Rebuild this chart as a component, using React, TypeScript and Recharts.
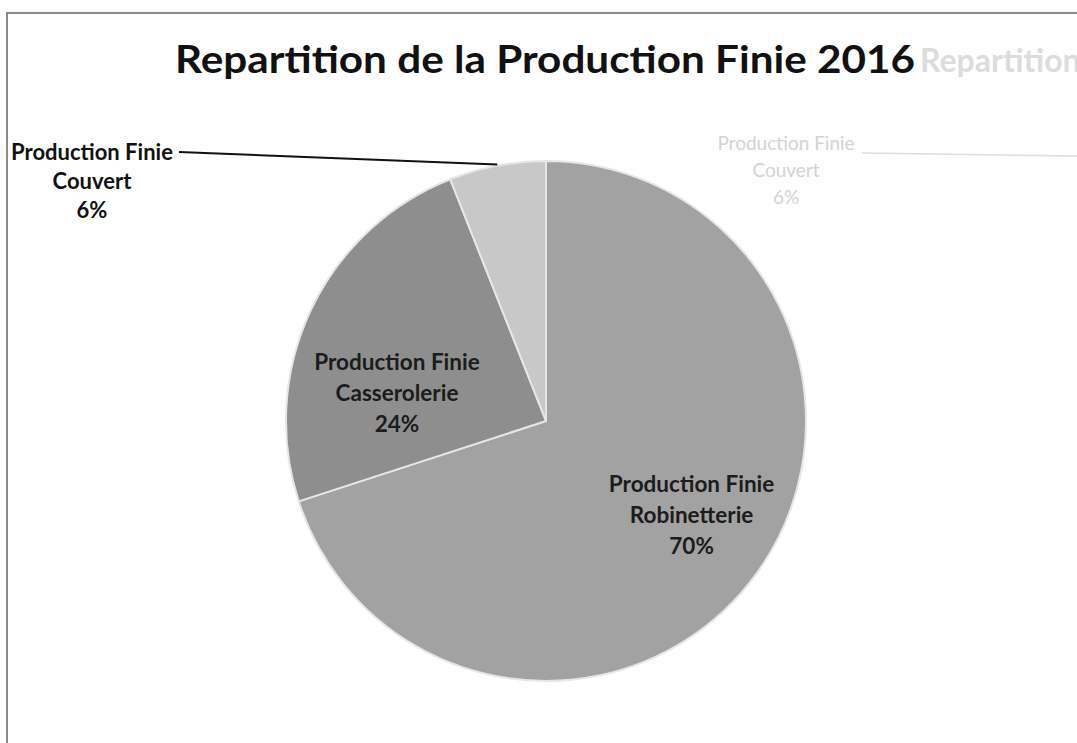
import { PieChart, Pie, Cell } from "recharts";

const categories = [
  "Production Finie Robinetterie",
  "Production Finie Casserolerie",
  "Production Finie Couvert",
];
const shares = [70, 24, 6];
const sliceColors = ["#a2a2a2", "#8e8e8e", "#c8c8c8"];
const title = "Repartition de la Production Finie 2016";

const data = categories.map((name, i) => ({ name, value: shares[i] }));

const RAD = Math.PI / 180;
const FONT = "Lato, 'Open Sans', sans-serif";

// label anchor relative to pie centre (fractions of radius), picked to match the picture
const insideSpots: Record<number, { dx: number; dy: number }> = {
  0: { dx: 0.56, dy: 0.36 },
  1: { dx: -0.573, dy: -0.108 },
};

const renderLabel = (props: any) => {
  const { cx, cy, midAngle, outerRadius, index, name, value } = props;
  const parts = String(name).split(" ");
  const line1 = parts.slice(0, 2).join(" ");
  const line2 = parts.slice(2).join(" ");
  if (index === 2) {
    const ex = cx + outerRadius * Math.cos(-midAngle * RAD);
    const ey = cy + outerRadius * Math.sin(-midAngle * RAD);
    const tx = 92;
    return (
      <g>
        <line x1={179} y1={152} x2={ex} y2={ey - 1} stroke="#111" strokeWidth={2} />
        <text x={tx} textAnchor="middle" fontFamily={FONT} fontWeight={700} fontSize={22} fill="#111">
          <tspan x={tx} y={160}>{line1}</tspan>
          <tspan x={tx} y={189}>{line2}</tspan>
          <tspan x={tx} y={218}>{value}%</tspan>
        </text>
      </g>
    );
  }
  const spot = insideSpots[index];
  const x = cx + outerRadius * spot.dx;
  const y = cy + outerRadius * spot.dy;
  return (
    <text x={x} textAnchor="middle" fontFamily={FONT} fontWeight={700} fontSize={22.5} fill="#1c1c1c">
      <tspan x={x} y={y - 23}>{line1}</tspan>
      <tspan x={x} y={y + 8}>{line2}</tspan>
      <tspan x={x} y={y + 39}>{value}%</tspan>
    </text>
  );
};

export default function App() {
  return (
    <div
      style={{
        position: "absolute",
        left: 0,
        top: 0,
        width: 1077,
        height: 743,
        overflow: "hidden",
        background: "#fff",
      }}
    >
      <div
        style={{
          position: "absolute",
          left: 6,
          top: 12,
          width: 1200,
          height: 900,
          border: "2px solid #8a8a8a",
        }}
      />
      <svg
        width={1077}
        height={743}
        style={{ position: "absolute", left: 0, top: 0, pointerEvents: "none" }}
      >
        <text
          x={175}
          y={73}
          textLength={740}
          lengthAdjust="spacingAndGlyphs"
          fontFamily={FONT}
          fontWeight={700}
          fontSize={38}
          fill="#111"
        >
          {title}
        </text>
        <text x={920} y={72} fontFamily={FONT} fontWeight={700} fontSize={32} fill="#dcdcdc">
          Repartition
        </text>
        <g fontFamily={FONT} fontSize={19} fill="#d4d4d4" textAnchor="middle">
          <text x={786} y={150}>Production Finie</text>
          <text x={786} y={177}>Couvert</text>
          <text x={786} y={204}>6%</text>
        </g>
        <line x1={862} y1={153} x2={1077} y2={156} stroke="#dedede" strokeWidth={1.5} />
      </svg>
      <div style={{ position: "absolute", left: 0, top: 0 }}>
        <PieChart width={1077} height={743} margin={{ top: 0, right: 0, bottom: 0, left: 0 }}>
          <Pie
            data={data}
            dataKey="value"
            nameKey="name"
            cx={546}
            cy={421}
            outerRadius={260}
            startAngle={90}
            endAngle={-270}
            stroke="#e6e6e6"
            strokeWidth={2}
            label={renderLabel}
            labelLine={false}
            isAnimationActive={false}
          >
            {data.map((d, i) => (
              <Cell key={d.name} fill={sliceColors[i]} />
            ))}
          </Pie>
        </PieChart>
      </div>
    </div>
  );
}
